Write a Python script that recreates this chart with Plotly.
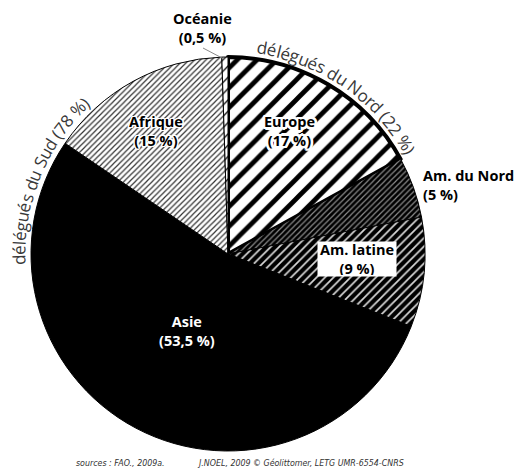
import math
import plotly.graph_objects as go

# Répartition des délégués par continent (%)
regions = ["Europe", "Am. du Nord", "Am. latine", "Asie", "Afrique", "Océanie"]
shares = [17, 5, 9, 53.5, 15, 0.5]
share_labels = ["(17 %)", "(5 %)", "(9 %)", "(53,5 %)", "(15 %)", "(0,5 %)"]

nord_text = "délégués du Nord (22 %)"
sud_text = "délégués du Sud (78 %)"
source_text = "<i>sources : FAO., 2009a.</i>"
credit_text = "<i>J.NOEL, 2009 © Géolittomer, LETG UMR-6554-CNRS</i>"

W, H = 517, 470
CX, CY, R = 228, 254, 197


def px(x):
    return x / W


def py(y):
    return 1 - y / H


fills = dict(
    shape=["/", "/", "/", "", "/", "/"],
    bgcolor=["white", "black", "black", "black", "white", "white"],
    fgcolor=["black", "#8a8a8a", "#d8d8d8", "black", "#333333", "black"],
    size=[14, 4, 6, 8, 4, 8],
    solidity=[0.34, 0.3, 0.28, 0.3, 0.3, 0.15],
)

fig = go.Figure()
fig.add_trace(go.Pie(
    labels=regions,
    values=shares,
    sort=False,
    direction="clockwise",
    rotation=0,
    textinfo="none",
    hoverinfo="label+percent",
    showlegend=False,
    domain=dict(x=[px(CX - R), px(CX + R)], y=[py(CY + R), py(CY - R)]),
    marker=dict(
        colors=["white", "black", "black", "black", "white", "white"],
        line=dict(color="black", width=[4, 1, 1, 1, 1, 1]),
        pattern=fills,
    ),
))

annotations = []
bold = dict(family="Open Sans", size=14.5, color="black")


def halo_css(r, n=16):
    # ring of hard-edged white shadows around the glyphs
    parts = []
    for k in range(n):
        a = 2 * math.pi * k / n
        parts.append(f"{r * math.cos(a):.2f}px {r * math.sin(a):.2f}px 0 white")
    parts.append("0 0 2px white")
    return ", ".join(parts)


def label(i, x, y, **kw):
    font = dict(bold)
    font.update(kw.pop("font", {}))
    opts = dict(xanchor="center", yanchor="middle")
    opts.update(kw)
    annotations.append(dict(
        text=f"<b>{regions[i]}<br>{share_labels[i]}</b>",
        x=px(x), y=py(y), xref="paper", yref="paper",
        showarrow=False, font=font, **opts))


label(0, 289, 131, font=dict(shadow=halo_css(2.5)))
label(1, 421, 185, xanchor="left", align="left")
label(2, 357, 259, bgcolor="white", width=76, height=32)
label(3, 187, 331, font=dict(color="white"))
label(4, 156, 131, font=dict(shadow=halo_css(1.3)))
label(5, 202, 28)

# character widths (em) for placing text along an arc
CW = {" ": 0.26, "d": 0.613, "é": 0.561, "e": 0.561, "l": 0.26, "g": 0.548,
      "u": 0.613, "s": 0.477, "N": 0.738, "o": 0.604, "r": 0.408, "(": 0.295,
      ")": 0.295, "%": 0.828, "S": 0.55}


def arc_text(text, start_deg, radius, size, color="#383838"):
    cum = 0.0
    for ch in text:
        w = CW.get(ch, 0.572) * size
        theta = start_deg + math.degrees((cum + w / 2) / radius)
        t = math.radians(theta)
        x = CX + radius * math.sin(t)
        y = CY - radius * math.cos(t)
        ang = ((theta + 180) % 360) - 180
        annotations.append(dict(
            text=ch, x=px(x), y=py(y), xref="paper", yref="paper",
            showarrow=False, textangle=ang, xanchor="center", yanchor="middle",
            font=dict(family="Open Sans", size=size, color=color)))
        cum += w


arc_text(nord_text, 8.0, 209, 17)
arc_text(sud_text, 267.0, 209, 17)

foot = dict(family="DejaVu Sans Condensed, Liberation Sans", size=8.8, color="#333333")
annotations.append(dict(text=source_text, x=px(74), y=py(463), xref="paper", yref="paper",
                        xanchor="left", yanchor="middle", showarrow=False, font=foot))
annotations.append(dict(text=credit_text, x=px(195), y=py(463), xref="paper", yref="paper",
                        xanchor="left", yanchor="middle", showarrow=False, font=foot))

fig.update_layout(
    width=W, height=H,
    margin=dict(l=0, r=0, t=0, b=0),
    paper_bgcolor="white", plot_bgcolor="white",
    annotations=annotations,
    shapes=[dict(type="line", xref="paper", yref="paper",
                 x0=px(203), y0=py(48), x1=px(222), y1=py(58),
                 line=dict(color="#888888", width=1))],
)

fig.write_html("out.html")
